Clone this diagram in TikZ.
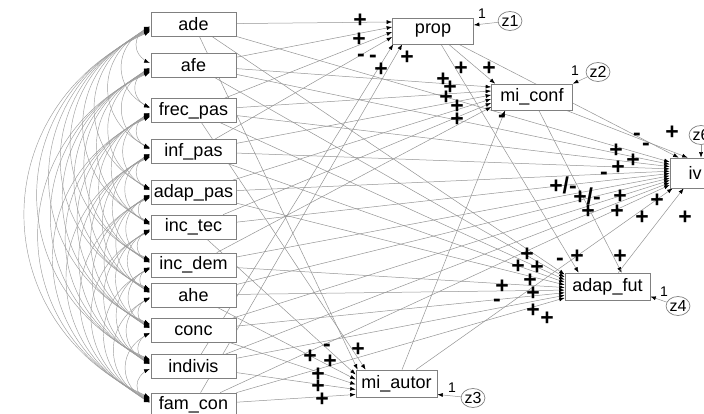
\documentclass[tikz,border=0pt]{standalone}
\usepackage{fontspec}
\setmainfont{Liberation Sans}
\usetikzlibrary{arrows.meta,shapes.geometric,calc}
\pgfdeclarelayer{back}
\pgfdeclarelayer{bg}
\pgfsetlayers{back,bg,main}
\begin{document}
\begin{tikzpicture}[x=1pt,y=-1pt,
  lbox/.style={draw=black!50, line width=0.7pt, fill=white, minimum width=85pt, minimum height=24pt, inner sep=0pt, font=\fontsize{18}{18}\selectfont},
  ebox/.style={lbox, minimum width=81pt, minimum height=26pt},
  zell/.style={ellipse, draw=black!50, line width=0.7pt, fill=white, minimum width=23pt, minimum height=19pt, inner sep=0pt, font=\fontsize{16}{16}\selectfont},
  tip/.tip={Latex[length=5.5pt,width=4pt,color=black]},
  reg/.style={draw=black!42, line width=0.5pt, -tip},
  cov/.style={draw=black!38, line width=0.45pt},
  covtip/.style={draw=black, line width=0.45pt, -tip},
  lab/.style={font=\fontsize{23}{23}\selectfont\bfseries, inner sep=0pt},
  one/.style={font=\fontsize{14}{14}\selectfont, inner sep=0pt}]
\useasboundingbox (0,0) rectangle (704,414);
\begin{pgfonlayer}{back}
\fill[white] (0,0) rectangle (704,414);
\end{pgfonlayer}
\def\exlist{ade/24,afe/65.5,frecpas/110.5,infpas/151.5,adappas/192.5,inctec/227,incdem/265,ahe/295,conc/330.5,indivis/366.5,famcon/405}
% exogenous boxes
\foreach \n/\t/\y in {ade/ade/24,afe/afe/65.5,frecpas/frec\_pas/110.5,infpas/inf\_pas/151.5,adappas/adap\_pas/192.5,inctec/inc\_tec/227,incdem/inc\_dem/265,ahe/ahe/295,conc/conc/330.5,indivis/indivis/366.5,famcon/fam\_con/405}
  \node[lbox] (\n) at (193.5,\y) {\t};
% endogenous boxes
\node[ebox] (prop) at (433,31) {prop};
\node[ebox] (miconf) at (532,97) {mi\_conf};
\node[ebox, minimum height=27pt] (miautor) at (396.5,383.5) {mi\_autor};
\node[ebox, minimum width=85pt, minimum height=27pt] (adapfut) at (607.5,286.5) {adap\_fut};
\node[lbox, minimum width=50pt, minimum height=30pt] (iv) at (695,173) {iv};
% errors
\node[zell] (z1) at (510,21) {z1};
\node[zell] (z2) at (598,72) {z2};
\node[zell] (z3) at (473,398) {z3};
\node[zell] (z4) at (678,306) {z4};
\node[zell] (z6) at (701,135) {z6};
\node[one] (o1) at (482,14) {1};
\node[one] (o2) at (575,71) {1};
\node[one] (o3) at (452,388) {1};
\node[one] (o4) at (664,292) {1};
\begin{pgfonlayer}{bg}
% covariances: curves
\foreach [count=\i] \a/\ya in \exlist {
  \foreach [count=\j] \b/\yb in \exlist {
    \ifnum\j>\i
      \pgfmathsetmacro\c{\yb-\ya}
      \pgfmathsetmacro\o{2+0.015*\c}
      \draw[cov] ($(\a.west)+(-1,\o)$) .. controls +(-0.44*\c,0.189*\c) and +(-0.44*\c,-0.189*\c) .. ($(\b.west)+(-1,-\o)$);
    \fi
  }
}
% covariances: arrow heads on top
\foreach [count=\i] \a/\ya in \exlist {
  \foreach [count=\j] \b/\yb in \exlist {
    \ifnum\j>\i
      \pgfmathsetmacro\c{\yb-\ya}
      \pgfmathsetmacro\o{2+0.015*\c}
      \draw[covtip] ($(\a.west)+(-1,\o)+(-4.4,1.89)$) -- ($(\a.west)+(-1,\o)$);
      \draw[covtip] ($(\b.west)+(-1,-\o)+(-4.4,-1.89)$) -- ($(\b.west)+(-1,-\o)$);
    \fi
  }
}
% exogenous -> iv
\foreach [count=\i] \a/\ya in \exlist {
  \pgfmathsetmacro\k{-11+(\i-1)*2.3}
  \draw[reg] (\a) -- ($(iv.west)+(0,\k)$);
}
% -> prop
\draw[reg] (ade) -- ($(prop.west)+(0,-9)$);
\draw[reg] (afe) -- ($(prop.west)+(0,-4)$);
\draw[reg] (frecpas) -- ($(prop.west)+(0,1)$);
\draw[reg] (infpas) -- ($(prop.west)+(0,6)$);
\draw[reg] (indivis) -- ($(prop.south west)+(1,0)$);
\draw[reg] (famcon) -- ($(prop.south west)+(10,0)$);
% -> mi_conf
\draw[reg] (afe) -- ($(miconf.west)+(0,-10)$);
\draw[reg] (frecpas) -- ($(miconf.west)+(0,-6)$);
\draw[reg] (infpas) -- ($(miconf.west)+(0,-2)$);
\draw[reg] (adappas) -- ($(miconf.west)+(0,2)$);
\draw[reg] (inctec) -- ($(miconf.west)+(0,6)$);
\draw[reg] (incdem) -- ($(miconf.west)+(0,10)$);
\draw[reg] (prop) -- ($(miconf.north west)+(4,0)$);
\draw[reg] (miautor) -- ($(miconf.south west)+(14,0)$);
% -> mi_autor
\draw[reg] (ade) -- ($(miautor.north west)+(2,0)$);
\draw[reg] (frecpas) -- ($(miautor.north west)+(10,0)$);
\draw[reg] (inctec) -- ($(miautor.west)+(0,-9)$);
\draw[reg] (ahe) -- ($(miautor.west)+(0,-4)$);
\draw[reg] (conc) -- ($(miautor.west)+(0,1)$);
\draw[reg] (indivis) -- ($(miautor.west)+(0,6)$);
\draw[reg] (famcon) -- ($(miautor.west)+(0,11)$);
% -> adap_fut
\foreach [count=\i] \a in {ade,afe,frecpas,infpas,adappas,incdem,ahe,conc,indivis,famcon} {
  \pgfmathsetmacro\k{-12+(\i-1)*2.6}
  \draw[reg] (\a) -- ($(adapfut.west)+(0,\k)$);
}
\draw[reg] (prop) -- ($(adapfut.north west)+(14,0)$);
\draw[reg] (miconf) -- ($(adapfut.north west)+(57,0)$);
% -> iv (endogenous)
\draw[reg] (prop) -- ($(iv.north west)+(9,0)$);
\draw[reg] (miconf) -- ($(iv.north west)+(18,0)$);
\draw[reg] (miautor) -- ($(iv.south west)+(3,0)$);
\draw[reg] (adapfut) -- ($(iv.south west)+(14,0)$);
% errors
\draw[reg] (z1) -- ($(prop.east)+(0,-6)$);
\draw[reg] (z2) -- (miconf.north east);
\draw[reg] (z3) -- ($(miautor.east)+(0,11)$);
\draw[reg] (z4) -- ($(adapfut.east)+(0,10)$);
\draw[reg] (z6) -- (z6 |- iv.north);
\end{pgfonlayer}
% sign labels
\foreach [count=\n] \x/\y/\t in {360/21/+,359/40/+,361/58/-,373/59/-,407/58/+,381/70/+,
  461/69/+,489/69/+,443/80/+,450/88/+,446/98/+,457/107/+,457/120/+,502/119/-,
  672/133/+,637/137/-,646/147/-,616/151/+,633/161/+,618/168/+,604/176/-,620/197/+,657/201/+,588/212/+,617/212/+,642/218/+,685/218/+,
  527/255/+,518/267/+,537/268/+,502/287/+,530/281/+,533/294/+,497/303/-,533/311/+,547/319/+,560/262/-,577/257/+,620/257/+,
  327/348/-,358/350/+,310/357/+,330/362/+,318/375/+,318/387/+,322/400/+}
  \node[lab] (s\n) at (\x,\y) {\t};
\node[lab] (pm1) at (563,185) {+/-};
\node[lab] (pm2) at (587,196) {+/-};
\end{tikzpicture}
\end{document}
